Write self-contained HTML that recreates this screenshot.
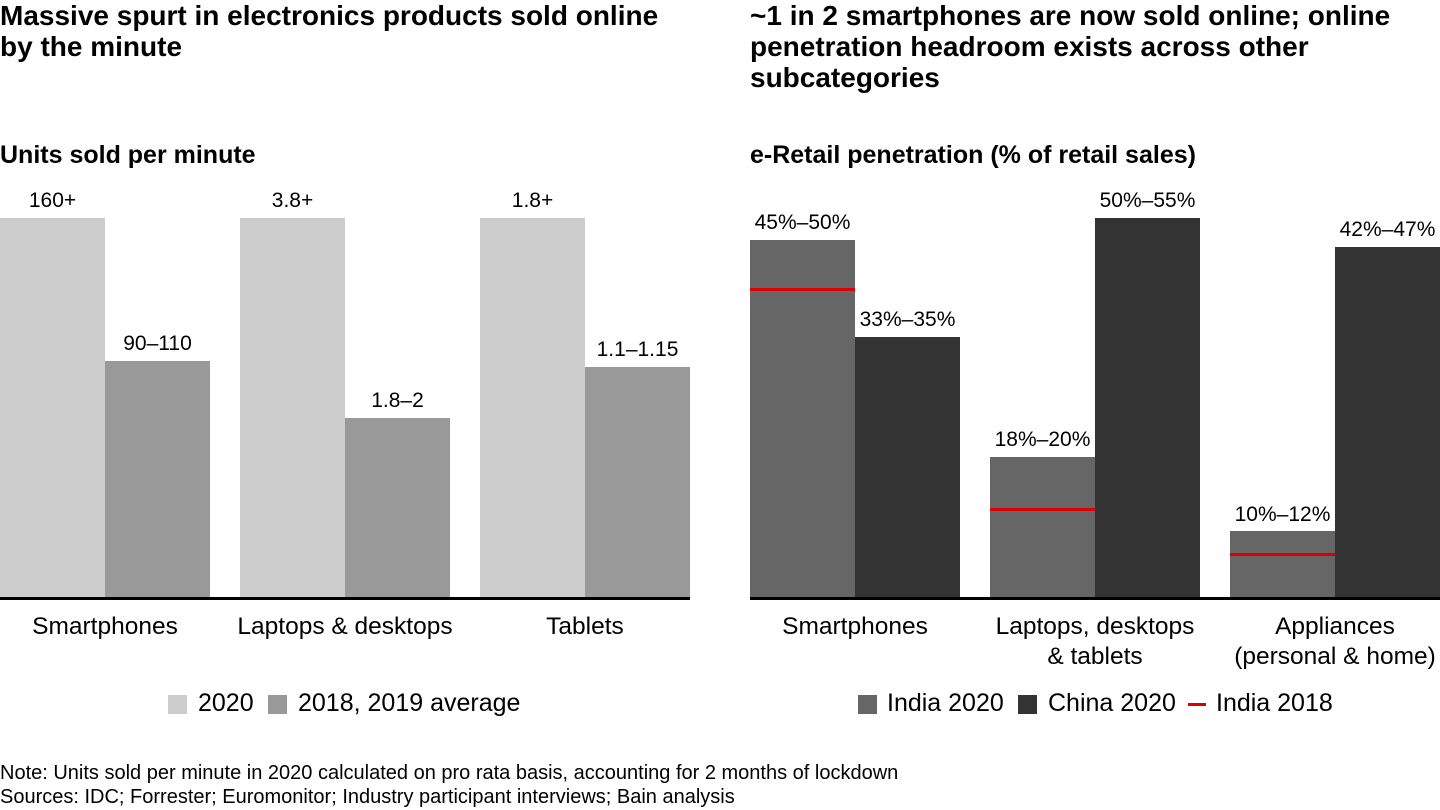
<!DOCTYPE html>
<html><head><meta charset="utf-8"><style>
body{margin:0;width:1440px;height:810px;background:#fff;position:relative;overflow:hidden;font-family:"Liberation Sans",Arial,sans-serif;color:#000}
div{position:absolute;white-space:nowrap}
.t{font-weight:bold;font-size:28px;line-height:31px}
.s{font-weight:bold;font-size:25px}
.v{font-size:21px;text-align:center;width:105px}
.c{font-size:24.5px;text-align:center;line-height:30px}
.l{font-size:25px}
.sq{width:19px;height:19px}
.n{font-size:20px}
</style></head><body>
<div class="t" style="left:0;top:0px">Massive spurt in electronics products sold online<br>by the minute</div>
<div class="t" style="left:750px;top:0px">~1 in 2 smartphones are now sold online; online<br>penetration headroom exists across other<br>subcategories</div>
<div class="s" style="left:0;top:141px">Units sold per minute</div>
<div class="s" style="left:750px;top:141px">e-Retail penetration (% of retail sales)</div>

<div style="left:0;top:218px;width:105px;height:380px;background:#ccc"></div>
<div style="left:105px;top:361px;width:105px;height:237px;background:#999"></div>
<div style="left:240px;top:218px;width:105px;height:380px;background:#ccc"></div>
<div style="left:345px;top:418px;width:105px;height:180px;background:#999"></div>
<div style="left:480px;top:218px;width:105px;height:380px;background:#ccc"></div>
<div style="left:585px;top:367px;width:105px;height:231px;background:#999"></div>
<div style="left:0;top:597px;width:690px;height:3px;background:#000"></div>
<div class="v" style="left:0;top:189px">160+</div>
<div class="v" style="left:105px;top:332px">90–110</div>
<div class="v" style="left:240px;top:189px">3.8+</div>
<div class="v" style="left:345px;top:389px">1.8–2</div>
<div class="v" style="left:480px;top:189px">1.8+</div>
<div class="v" style="left:585px;top:338px">1.1–1.15</div>
<div class="c" style="left:0;top:612px;width:210px">Smartphones</div>
<div class="c" style="left:225px;top:612px;width:240px">Laptops &amp; desktops</div>
<div class="c" style="left:480px;top:612px;width:210px">Tablets</div>
<div class="sq" style="left:168px;top:695px;background:#ccc"></div>
<div class="l" style="left:198px;top:689px">2020</div>
<div class="sq" style="left:268px;top:695px;background:#999"></div>
<div class="l" style="left:298px;top:689px">2018, 2019 average</div>

<div style="left:750px;top:240px;width:105px;height:358px;background:#666"></div>
<div style="left:855px;top:337px;width:105px;height:261px;background:#333"></div>
<div style="left:990px;top:457px;width:105px;height:141px;background:#666"></div>
<div style="left:1095px;top:218px;width:105px;height:380px;background:#333"></div>
<div style="left:1230px;top:531px;width:105px;height:67px;background:#666"></div>
<div style="left:1335px;top:247px;width:105px;height:351px;background:#333"></div>
<div style="left:750px;top:288px;width:105px;height:3px;background:#d00"></div>
<div style="left:990px;top:508px;width:105px;height:3px;background:#d00"></div>
<div style="left:1230px;top:553px;width:105px;height:3px;background:#d00"></div>
<div style="left:750px;top:597px;width:690px;height:3px;background:#000"></div>
<div class="v" style="left:750px;top:211px">45%–50%</div>
<div class="v" style="left:855px;top:308px">33%–35%</div>
<div class="v" style="left:990px;top:428px">18%–20%</div>
<div class="v" style="left:1095px;top:189px">50%–55%</div>
<div class="v" style="left:1230px;top:503px">10%–12%</div>
<div class="v" style="left:1335px;top:218px">42%–47%</div>
<div class="c" style="left:750px;top:612px;width:210px">Smartphones</div>
<div class="c" style="left:975px;top:612px;width:240px">Laptops, desktops<br>&amp; tablets</div>
<div class="c" style="left:1215px;top:612px;width:240px">Appliances<br>(personal &amp; home)</div>
<div class="sq" style="left:858px;top:695px;background:#666"></div>
<div class="l" style="left:887px;top:689px">India 2020</div>
<div class="sq" style="left:1018px;top:695px;background:#333"></div>
<div class="l" style="left:1048px;top:689px">China 2020</div>
<div style="left:1188px;top:703px;width:18px;height:3px;background:#d00"></div>
<div class="l" style="left:1216px;top:689px">India 2018</div>

<div class="n" style="left:0;top:762px">Note: Units sold per minute in 2020 calculated on pro rata basis, accounting for 2 months of lockdown</div>
<div class="n" style="left:0;top:786px">Sources: IDC; Forrester; Euromonitor; Industry participant interviews; Bain analysis</div>
</body></html>
